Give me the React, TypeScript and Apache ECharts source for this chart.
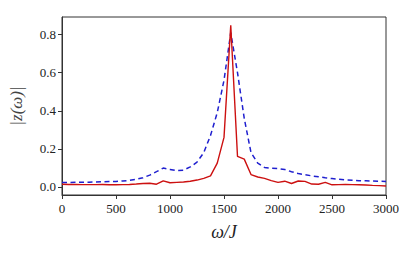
import React, { useEffect, useRef } from "react";
import * as echarts from "echarts";

const omega: number[] = [
  0, 62.5, 125, 187.5, 250, 312.5, 375, 437.5, 500, 562.5, 625, 687.5, 750, 812.5, 875, 937.5,
  1000, 1062.5, 1125, 1187.5, 1250, 1312.5, 1375, 1437.5, 1500, 1562.5, 1625, 1687.5, 1750,
  1812.5, 1875, 1937.5, 2000, 2062.5, 2125, 2187.5, 2250, 2312.5, 2375, 2437.5, 2500, 2562.5,
  2625, 2687.5, 2750, 2812.5, 2875, 2937.5, 3000,
];

const redValues: number[] = [
  0.014, 0.013, 0.013, 0.012, 0.012, 0.012, 0.013, 0.011, 0.011, 0.012, 0.013, 0.015, 0.018,
  0.019, 0.014, 0.032, 0.022, 0.024, 0.026, 0.03, 0.036, 0.045, 0.058, 0.125, 0.26, 0.849,
  0.16, 0.146, 0.065, 0.052, 0.045, 0.033, 0.024, 0.03, 0.018, 0.031, 0.029, 0.015, 0.014,
  0.024, 0.011, 0.012, 0.013, 0.012, 0.011, 0.01, 0.008, 0.007, 0.005,
];

const blueValues: number[] = [
  0.023, 0.023, 0.024, 0.025, 0.025, 0.026, 0.027, 0.028, 0.029, 0.031, 0.034, 0.04, 0.048,
  0.062, 0.08, 0.099, 0.092, 0.085, 0.088, 0.105, 0.13, 0.18, 0.27, 0.39, 0.56, 0.81, 0.6,
  0.36, 0.18, 0.125, 0.102, 0.098, 0.096, 0.091, 0.08, 0.07, 0.064, 0.058, 0.053, 0.048,
  0.044, 0.04, 0.037, 0.035, 0.033, 0.032, 0.031, 0.03, 0.029,
];

const yTicks: number[] = [0, 0.2, 0.4, 0.6, 0.8];

export default function App() {
  const ref = useRef<HTMLDivElement>(null);
  useEffect(() => {
    if (!ref.current) return;
    const chart = echarts.init(ref.current, null, { renderer: "svg" });
    const font = "Liberation Serif";
    chart.setOption({
      animation: false,
      backgroundColor: "#ffffff",
      grid: {
        left: 60,
        right: 29,
        top: 17,
        bottom: 61,
        show: true,
        borderColor: "#333",
        borderWidth: 1,
        containLabel: false,
      },
      xAxis: {
        type: "value",
        min: 0,
        max: 3000,
        interval: 500,
        name: "ω/J",
        nameLocation: "middle",
        nameGap: 28,
        nameTextStyle: { fontFamily: font, fontStyle: "italic", fontSize: 18, color: "#222" },
        axisLine: { show: true, onZero: false, lineStyle: { color: "#333", width: 1 } },
        axisTick: { show: true, inside: false, length: 4, lineStyle: { color: "#333" } },
        axisLabel: {
          fontFamily: font,
          fontSize: 13,
          color: "#222",
          margin: 7,
          formatter: (v: number) => String(v),
        },
        splitLine: { show: false },
      },
      yAxis: {
        type: "value",
        min: -0.0425,
        max: 0.8925,
        name: "|z(ω)|",
        nameLocation: "middle",
        nameGap: 37,
        nameRotate: 90,
        nameTextStyle: { fontFamily: font, fontStyle: "italic", fontSize: 17, color: "#444" },
        axisLine: { show: true, onZero: false, lineStyle: { color: "#333", width: 1 } },
        axisTick: {
          show: true,
          inside: false,
          length: 4,
          customValues: yTicks,
          lineStyle: { color: "#333" },
        },
        axisLabel: {
          fontFamily: font,
          fontSize: 13,
          color: "#222",
          margin: 6,
          customValues: yTicks,
          formatter: (v: number) => v.toFixed(1),
        },
        splitLine: { show: false },
      },
      series: [
        {
          type: "line",
          data: omega.map((x, i) => [x, blueValues[i]]),
          showSymbol: false,
          lineStyle: { color: "#1f1fcf", width: 1.5, type: [5, 3.5] },
          itemStyle: { color: "#1f1fcf" },
        },
        {
          type: "line",
          data: omega.map((x, i) => [x, redValues[i]]),
          showSymbol: false,
          lineStyle: { color: "#cc1010", width: 1.4 },
          itemStyle: { color: "#cc1010" },
        },
      ],
    });
    return () => chart.dispose();
  }, []);
  return (
    <div
      ref={ref}
      style={{ position: "absolute", left: 0, top: 0, width: 415, height: 256 }}
    />
  );
}
